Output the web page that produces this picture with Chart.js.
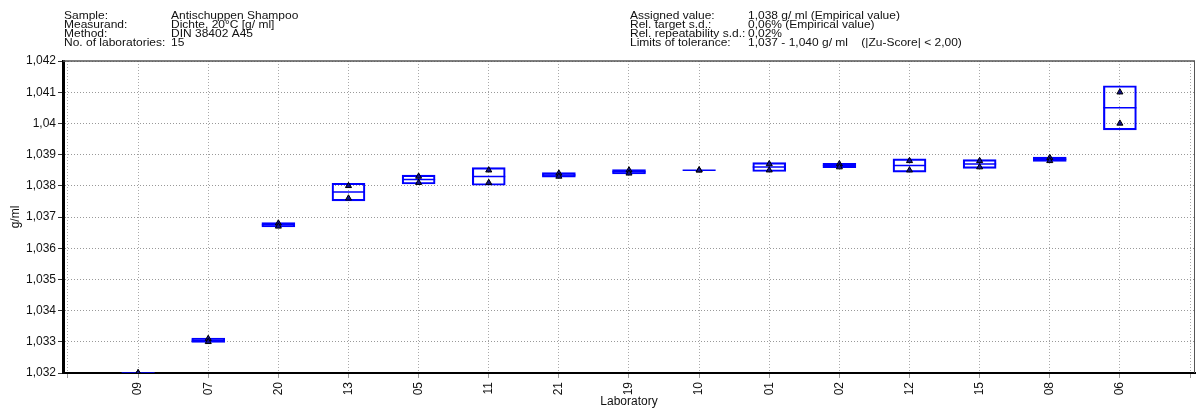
<!DOCTYPE html>
<html>
<head>
<meta charset="utf-8">
<script src="https://cdn.jsdelivr.net/npm/chart.js@4/dist/chart.umd.min.js"></script>
<style>
  html, body { margin: 0; padding: 0; background: #fff; }
  canvas { display: block; }
</style>
</head>
<body>
<canvas id="boxChart" width="1196" height="409"></canvas>
<script>
// laboratories in ranked order and their two single results (g/ml)
const labs = ['09', '07', '20', '13', '05', '11', '21', '19', '10', '01', '02', '12', '15', '08', '06'];
const result1 = [1.0320, 1.0331, 1.0368, 1.0380, 1.0383, 1.0385, 1.0384, 1.0385, 1.0385, 1.0387, 1.0387, 1.0388, 1.0388, 1.0389, 1.0410];
const result2 = [1.0320, 1.0330, 1.0367, 1.0376, 1.0381, 1.0381, 1.0383, 1.0384, 1.0385, 1.0385, 1.0386, 1.0385, 1.0386, 1.0388, 1.0400];
const yTicks = [1.032, 1.033, 1.034, 1.035, 1.036, 1.037, 1.038, 1.039, 1.040, 1.041, 1.042];

const headerLeft = [
    ['Sample:', 'Antischuppen Shampoo'],
    ['Measurand:', 'Dichte, 20°C [g/ ml]'],
    ['Method:', 'DIN 38402 A45'],
    ['No. of laboratories:', '15']
];
const headerRight = [
    ['Assigned value:', '1,038 g/ ml (Empirical value)'],
    ['Rel. target s.d.:', '0,06% (Empirical value)'],
    ['Rel. repeatability s.d.:', '0,02%'],
    ['Limits of tolerance:', '1,037 - 1,040 g/ ml    (|Zu-Score| < 2,00)']
];

const FONT = "'Liberation Sans', Arial, sans-serif";

// lab mean and s.d. of the two results -> box
const means = labs.map((l, i) => (result1[i] + result2[i]) / 2);
const sds = labs.map((l, i) => Math.abs(result1[i] - result2[i]) / Math.SQRT2);

const boxData = labs.map((l, i) => ({ x: i + 1, y: [means[i] - sds[i], means[i] + sds[i]] }));
const meanData = labs.map((l, i) => ({ x: i + 1, y: means[i] }));
const pointData = [];
labs.forEach((l, i) => {
    pointData.push({ x: i + 1, y: result1[i] });
    pointData.push({ x: i + 1, y: result2[i] });
});

function fmt(v) {
    return String(Number(v.toFixed(3))).replace('.', ',');
}

//header text + frame lines on top/right
const headerPlugin = {
    id: 'header',
    afterDraw(chart) {
        const ctx = chart.ctx;
        const a = chart.chartArea;
        ctx.save();
        ctx.strokeStyle = '#555';
        ctx.lineWidth = 1.5;
        ctx.beginPath();
        ctx.moveTo(a.left, a.top);
        ctx.lineTo(a.right, a.top);
        ctx.stroke();
        ctx.lineWidth = 1;
        ctx.beginPath();
        ctx.moveTo(a.right - 0.5, a.top);
        ctx.lineTo(a.right - 0.5, a.bottom);
        ctx.stroke();

        // header font is a bit wide, stretch 11px text horizontally
        const sx = 1.09;
        ctx.setTransform(sx, 0, 0, 1, 0, 0);
        ctx.fillStyle = '#111';
        ctx.font = '11px ' + FONT;
        ctx.textBaseline = 'alphabetic';
        headerLeft.forEach((row, i) => {
            const y = 18.5 + i * 9.3;
            ctx.fillText(row[0], 64 / sx, y);
            ctx.fillText(row[1], 171 / sx, y);
        });
        headerRight.forEach((row, i) => {
            const y = 18.5 + i * 9.3;
            ctx.fillText(row[0], 630 / sx, y);
            ctx.fillText(row[1], 748 / sx, y);
        });
        ctx.restore();
    }
};

const ctx = document.getElementById('boxChart').getContext('2d');
const chart = new Chart(ctx, {
    type: 'bar',
    data: {
        datasets: [
            {
                type: 'scatter',
                data: pointData,
                pointStyle: 'triangle',
                radius: 3.5,
                backgroundColor: '#10108a',
                borderColor: '#000',
                borderWidth: 1,
                order: 0
            },
            {
                type: 'scatter',
                data: meanData,
                pointStyle: 'line',
                radius: 16.5,
                borderColor: '#0000ff',
                borderWidth: 1.5,
                order: 1
            },
            {
                type: 'bar',
                data: boxData,
                backgroundColor: 'rgba(0,0,0,0)',
                borderColor: '#0000ff',
                borderWidth: 1.5,
                borderSkipped: false,
                barThickness: 33,
                order: 2
            }
        ]
    },
    options: {
        responsive: false,
        animation: false,
        layout: {
            autoPadding: false,
            padding: { top: 61, right: 1, left: 0, bottom: 0 }
        },
        plugins: {
            legend: { display: false },
            tooltip: { enabled: false }
        },
        scales: {
            x: {
                type: 'linear',
                offset: false,
                min: -0.071,
                max: 16.071,
                afterFit(scale) {
                    scale.height = 36;
                    scale.paddingLeft = 0;
                    scale.paddingRight = 0;
                },
                afterBuildTicks(scale) {
                    scale.ticks = [];
                    for (let i = 0; i <= labs.length + 1; i++) scale.ticks.push({ value: i });
                },
                ticks: {
                    autoSkip: false,
                    minRotation: 90,
                    maxRotation: 90,
                    padding: 4,
                    color: '#111',
                    font: { family: FONT, size: 12 },
                    callback: v => (v >= 1 && v <= labs.length) ? labs[v - 1] : ''
                },
                grid: {
                    offset: false,
                    color: '#aaa',
                    tickColor: '#999',
                    tickLength: 5
                },
                border: { color: '#000', width: 2, dash: [1, 2] },
                title: {
                    display: true,
                    text: 'Laboratory',
                    color: '#111',
                    font: { family: FONT, size: 12 },
                    padding: { top: 0, bottom: 0 }
                }
            },
            y: {
                min: 1.032,
                max: 1.042,
                afterFit(scale) { scale.width = 63; },
                afterBuildTicks(scale) {
                    scale.ticks = yTicks.map(v => ({ value: v }));
                },
                ticks: {
                    padding: 2,
                    color: '#111',
                    font: { family: FONT, size: 12 },
                    callback: v => fmt(v)
                },
                grid: {
                    color: '#999',
                    tickColor: '#333',
                    tickLength: 5
                },
                border: { color: '#000', width: 3, dash: [1, 2] },
                title: {
                    display: true,
                    text: 'g/ml',
                    color: '#111',
                    font: { family: FONT, size: 12 },
                    padding: { top: 8, bottom: 0 }
                }
            }
        }
    },
    plugins: [headerPlugin]
});
</script>
</body>
</html>
